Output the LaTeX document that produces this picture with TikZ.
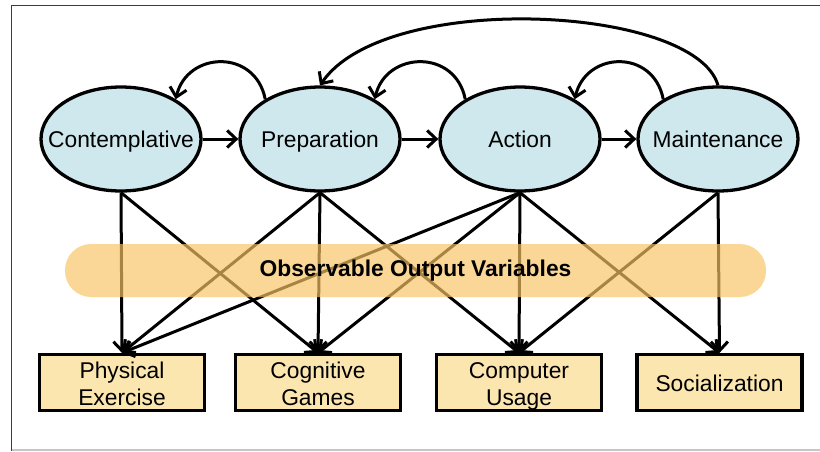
\documentclass[tikz,border=0pt]{standalone}
\usepackage{fontspec}
\setmainfont{Liberation Sans}
\usetikzlibrary{arrows.meta,shapes.geometric}
\definecolor{ellfill}{RGB}{206,232,237}
\definecolor{boxfill}{RGB}{252,230,176}
\definecolor{bandfill}{RGB}{248,196,100}
\definecolor{framegray}{RGB}{60,60,60}
\newcommand\topstrut{\rule{0pt}{23pt}}
\newcommand\botstrut{\rule[-5pt]{0pt}{5pt}}
\begin{document}
\begin{tikzpicture}[x=1pt,y=-1pt,
  stage/.style={ellipse, draw=black, line width=3.3pt, fill=ellfill,
    minimum width=160pt, minimum height=104pt, inner sep=0pt,
    text height=16.5pt, text depth=0.5pt,
    font=\fontsize{22.8}{26}\selectfont},
  obsbox/.style={rectangle, draw=black, line width=3.3pt, fill=boxfill,
    minimum width=165pt, minimum height=56pt, inner sep=0pt, align=center,
    font=\fontsize{22.8}{27}\selectfont},
  arr/.style={line width=3pt, -{Straight Barb[length=9pt,width=17pt,line width=3pt]}},
  band/.style={rounded corners=26pt, fill=bandfill, fill opacity=0.68,
    text opacity=1, minimum width=701pt, minimum height=53pt, inner sep=0pt,
    font=\bfseries\fontsize{22.8}{26}\selectfont}
]
\useasboundingbox (0,0) rectangle (820,451);
% frame
\draw[framegray, line width=1.6pt] (11.5,451) -- (11.5,5.5) -- (820,5.5);
\draw[gray!45, line width=1.2pt] (11.5,450) -- (820,450);

% stages
\node[stage] (con) at (121,139) {\makebox[0pt]{Contemplative}};
\node[stage] (pre) at (320,139) {\makebox[0pt]{Preparation}};
\node[stage] (act) at (520,139) {\makebox[0pt]{Action}};
\node[stage] (mai) at (718,139) {\makebox[0pt]{Maintenance}};

% outputs
\node[obsbox] (phy) at (122,382.5) {\topstrut Physical\\Exercise\botstrut};
\node[obsbox] (cog) at (318,382.5) {\topstrut Cognitive\\Games\botstrut};
\node[obsbox] (com) at (519,382.5) {\topstrut Computer\\Usage\botstrut};
\node[obsbox] (soc) at (719.5,382.5) {\topstrut Socialization\botstrut};

% forward arrows
\draw[arr] (con.east) -- (pre.west);
\draw[arr] (pre.east) -- (act.west);
\draw[arr] (act.east) -- (mai.west);

% relapse loops
\draw[arr] (pre.144) .. controls +(-10,-51) and +(11,-48) .. (con.36);
\draw[arr] (act.144) .. controls +(-10,-51) and +(11,-48) .. (pre.36);
\draw[arr] (mai.144) .. controls +(-10,-51) and +(11,-48) .. (act.36);
\draw[arr] (mai.north) .. controls (695,5) and (385,-10) .. (pre.north);

% stage to output arrows
\draw[arr] (con.south) -- (phy.north);
\draw[arr] (con.south) -- (cog.north);
\draw[arr] (pre.south) -- (phy.north);
\draw[arr] (pre.south) -- (cog.north);
\draw[arr] (pre.south) -- (com.north);
\draw[arr] (act.south) -- (phy.north);
\draw[arr] (act.south) -- (cog.north);
\draw[arr] (act.south) -- (com.north);
\draw[arr] (act.south) -- (soc.north);
\draw[arr] (mai.south) -- (com.north);
\draw[arr] (mai.south) -- (soc.north);

% band
\node[band] (obs) at (415.5,270.5) {Observable Output Variables};
\end{tikzpicture}
\end{document}
